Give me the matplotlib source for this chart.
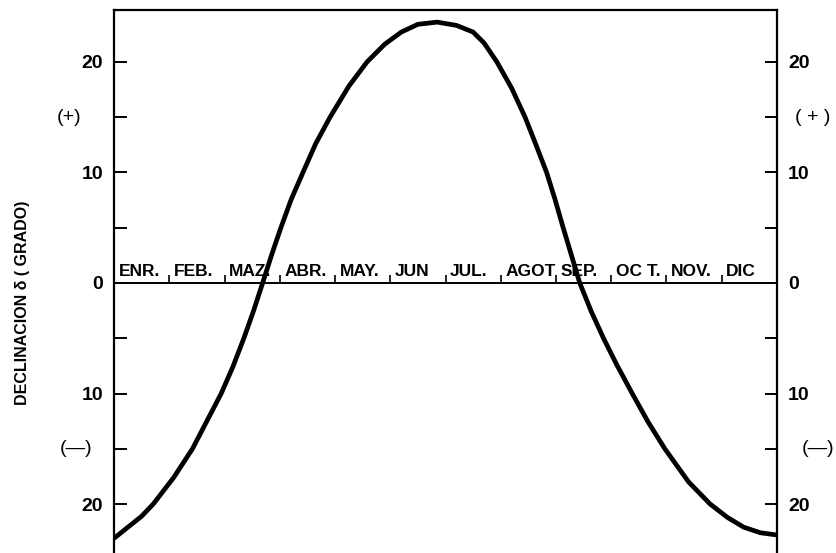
import matplotlib
matplotlib.use("Agg")
import matplotlib.pyplot as plt

# months along the zero line
months = ["ENR.", "FEB.", "MAZ.", "ABR.", "MAY.", "JUN", "JUL.", "AGOT", "SEP.", "OC T.", "NOV.", "DIC"]

# curve: time in months from 1 Jan, declination in degrees
t = [0.0, 0.25, 0.5, 0.71, 1.08, 1.42, 1.68, 1.94, 2.15, 2.35, 2.52, 2.69, 2.85,
     3.02, 3.21, 3.42, 3.65, 3.91, 4.25, 4.58, 4.9, 5.2, 5.5, 5.85, 6.2, 6.5,
     6.7, 6.93, 7.2, 7.44, 7.63, 7.83, 7.98, 8.13, 8.28, 8.43, 8.64, 8.86,
     9.1, 9.38, 9.67, 9.97, 10.4, 10.79, 11.1, 11.4, 11.7, 12.0]
decl = [-23.1, -22.1, -21.1, -20.0, -17.6, -15.0, -12.5, -10.0, -7.6, -5.0, -2.6, 0.0, 2.5,
        5.0, 7.6, 10.0, 12.6, 15.0, 17.8, 20.0, 21.6, 22.7, 23.4, 23.6, 23.3, 22.7,
        21.7, 20.0, 17.6, 15.0, 12.6, 10.0, 7.6, 5.0, 2.5, 0.0, -2.6, -5.0,
        -7.4, -10.0, -12.6, -15.0, -18.0, -20.0, -21.2, -22.1, -22.6, -22.8]

yticks = [20, 15, 10, 5, 0, -5, -10, -15, -20]
ylabels = ["20", "", "10", "", "0", "", "10", "", "20"]

font = "Liberation Sans"

fig = plt.figure(figsize=(8.36, 5.53), dpi=100)
ax = fig.add_axes([0.1364, 0.0, 0.793, 0.982])
ax.set_xlim(0, 12)
ax.set_ylim(-24.43, 24.7)

ax.plot(t, decl, color="black", lw=3.4, solid_capstyle="round",
        solid_joinstyle="round")
ax.axhline(0, color="black", lw=1.4)

# month separators and names sitting on the zero line
ax.vlines(range(1, 12), 0, 0.75, color="black", lw=1.2)
for i, m in enumerate(months):
    ax.text(i + 0.08, 0.35, m, ha="left", va="bottom", fontsize=12.5,
            fontweight="bold", family=font)

for s in ["left", "right", "top"]:
    ax.spines[s].set_linewidth(1.6)
ax.spines["bottom"].set_visible(False)
ax.set_xticks([])

ax.set_yticks(yticks)
ax.set_yticklabels(ylabels)
ax.tick_params(axis="y", direction="in", length=9, width=1.4, pad=8,
               left=True, right=True, labelleft=True, labelright=True,
               labelsize=14)
for lab in ax.get_yticklabels():
    lab.set_fontweight("bold")
    lab.set_family(font)

# sign markers
ax.text(-0.6, 15, "(+)", ha="right", va="center", fontsize=14, family=font,
        clip_on=False)
ax.text(-0.4, -15, "(—)", ha="right", va="center", fontsize=14, family=font,
        clip_on=False)
ax.text(12.33, 15, "( + )", ha="left", va="center", fontsize=14, family=font,
        clip_on=False)
ax.text(12.45, -15, "(—)", ha="left", va="center", fontsize=14, family=font,
        clip_on=False)

fig.text(0.027, 0.452, "DECLINACION δ ( GRADO)", rotation=90, ha="center",
         va="center", fontsize=11.5, fontweight="bold", family=font)

fig.savefig("out.png", dpi=100, facecolor="white")
